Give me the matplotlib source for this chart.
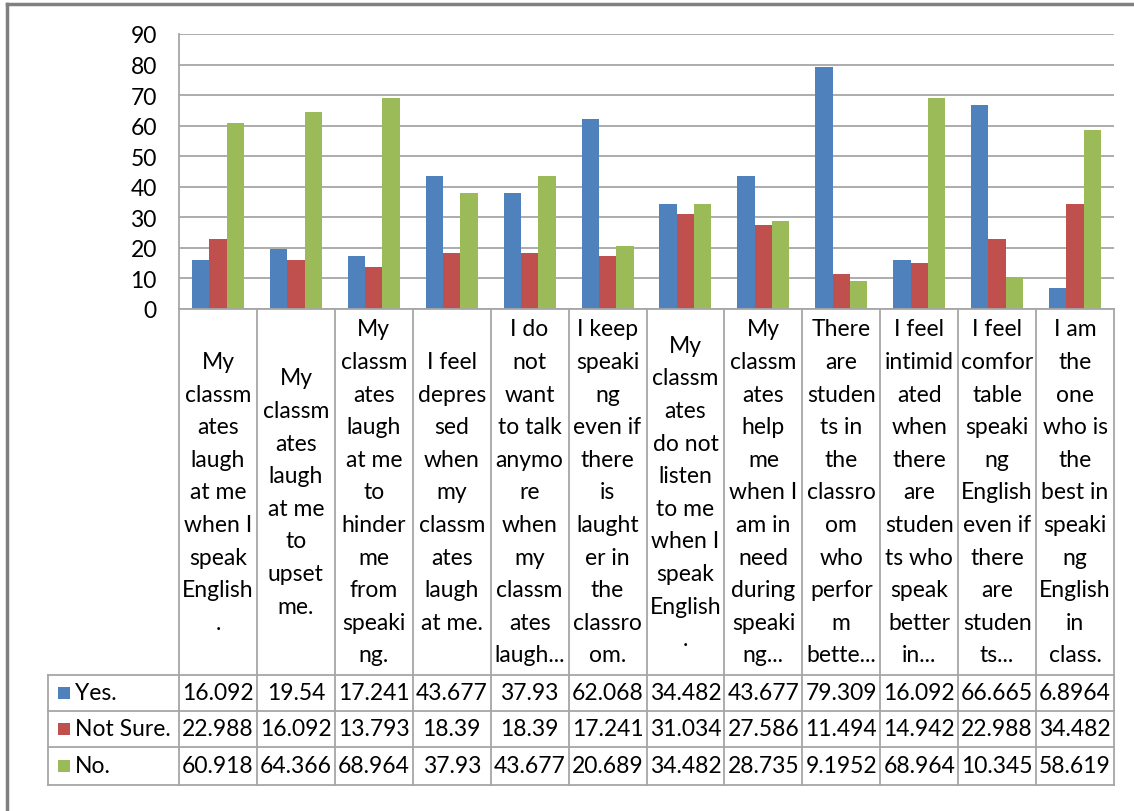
import matplotlib
matplotlib.use("Agg")
import matplotlib.pyplot as plt
from matplotlib.patches import Rectangle
from matplotlib.lines import Line2D
from matplotlib.transforms import blended_transform_factory

plt.rcParams['font.family'] = ['Lato', 'DejaVu Sans']

categories = [
    "My\nclassm\nates\nlaugh\nat me\nwhen I\nspeak\nEnglish\n.",
    "My\nclassm\nates\nlaugh\nat me\nto\nupset\nme.",
    "My\nclassm\nates\nlaugh\nat me\nto\nhinder\nme\nfrom\nspeaki\nng.",
    "I feel\ndepres\nsed\nwhen\nmy\nclassm\nates\nlaugh\nat me.",
    "I do\nnot\nwant\nto talk\nanymo\nre\nwhen\nmy\nclassm\nates\nlaugh...",
    "I keep\nspeaki\nng\neven if\nthere\nis\nlaught\ner in\nthe\nclassro\nom.",
    "My\nclassm\nates\ndo not\nlisten\nto me\nwhen I\nspeak\nEnglish\n.",
    "My\nclassm\nates\nhelp\nme\nwhen I\nam in\nneed\nduring\nspeaki\nng...",
    "There\nare\nstuden\nts in\nthe\nclassro\nom\nwho\nperfor\nm\nbette...",
    "I feel\nintimid\nated\nwhen\nthere\nare\nstuden\nts who\nspeak\nbetter\nin...",
    "I feel\ncomfor\ntable\nspeaki\nng\nEnglish\neven if\nthere\nare\nstuden\nts...",
    "I am\nthe\none\nwho is\nthe\nbest in\nspeaki\nng\nEnglish\nin\nclass.",
]

series_names = ["Yes.", "Not Sure.", "No."]
yes_vals = [16.092, 19.54, 17.241, 43.677, 37.93, 62.068, 34.482, 43.677, 79.309, 16.092, 66.665, 6.8964]
notsure_vals = [22.988, 16.092, 13.793, 18.39, 18.39, 17.241, 31.034, 27.586, 11.494, 14.942, 22.988, 34.482]
no_vals = [60.918, 64.366, 68.964, 37.93, 43.677, 20.689, 34.482, 28.735, 9.1952, 68.964, 10.345, 58.619]
yes_text = ["16.092", "19.54", "17.241", "43.677", "37.93", "62.068", "34.482", "43.677", "79.309", "16.092", "66.665", "6.8964"]
notsure_text = ["22.988", "16.092", "13.793", "18.39", "18.39", "17.241", "31.034", "27.586", "11.494", "14.942", "22.988", "34.482"]
no_text = ["60.918", "64.366", "68.964", "37.93", "43.677", "20.689", "34.482", "28.735", "9.1952", "68.964", "10.345", "58.619"]
y_ticks = [0, 10, 20, 30, 40, 50, 60, 70, 80, 90]

colors = ["#4F81BD", "#C0504D", "#9BBB59"]
grid_c = "#A6A6A6"
FS = 16.5

W, H = 1134, 812
fig = plt.figure(figsize=(W / 100, H / 100), dpi=100)

def fx(x):
    return x / W

def fy(y):
    return 1 - y / H

left, right, top, bottom = 179, 1114, 35, 310
ax = fig.add_axes([fx(left), fy(bottom), fx(right - left), (bottom - top) / H])
n = len(categories)
ax.set_xlim(-0.5, n - 0.5)
ax.set_ylim(0, 90)

bw = 1 / 4.5
series = [yes_vals, notsure_vals, no_vals]
for k, vals in enumerate(series):
    ax.bar([i + (k - 1) * bw for i in range(n)], vals, width=bw, color=colors[k],
           zorder=3, linewidth=0)

ax.set_yticks(y_ticks)
ax.set_yticklabels([str(t) for t in y_ticks], fontsize=FS, color="#000000")
ax.tick_params(axis='y', length=0, pad=16)
ax.set_xticks([])
ax.grid(axis='y', color=grid_c, linewidth=1.3, zorder=0)
for s in ["top", "right", "bottom"]:
    ax.spines[s].set_visible(False)
ax.spines["left"].set_color(grid_c)
ax.spines["left"].set_linewidth(1.3)

# Table
bt = blended_transform_factory(ax.transData, fig.transFigure)
row_tops = [676, 712, 748, 786]
line_kw = dict(color=grid_c, linewidth=1.3, clip_on=False)

# vertical lines
for i in range(n + 1):
    xv = i - 0.5
    fig.add_artist(Line2D([xv, xv], [fy(bottom), fy(row_tops[-1])], transform=bt, **line_kw))
fig.add_artist(Line2D([fx(48), fx(48)], [fy(row_tops[0]), fy(row_tops[-1])], transform=fig.transFigure, **line_kw))
# horizontal lines
fig.add_artist(Line2D([fx(left), fx(right)], [fy(bottom), fy(bottom)], transform=fig.transFigure, **line_kw))
for yr in row_tops:
    fig.add_artist(Line2D([fx(48), fx(right)], [fy(yr), fy(yr)], transform=fig.transFigure, **line_kw))

# category labels
pitch = 32.6
mid = (bottom + row_tops[0]) / 2
for i, lab in enumerate(categories):
    lines = lab.split("\n")
    m = len(lines)
    for j, ln in enumerate(lines):
        yy = mid + (j - (m - 1) / 2) * pitch
        fig.text(i, fy(yy), ln, transform=bt, ha="center", va="center", fontsize=FS, color="#000000")

# data rows
texts = [yes_text, notsure_text, no_text]
for r in range(3):
    yc = (row_tops[r] + row_tops[r + 1]) / 2
    fig.add_artist(Rectangle((fx(58), fy(yc + 6)), fx(12), 12 / H, transform=fig.transFigure,
                             facecolor=colors[r], edgecolor="none"))
    fig.text(fx(75), fy(yc), series_names[r], ha="left", va="center", fontsize=FS, color="#000000")
    for i in range(n):
        fig.text(i, fy(yc), texts[r][i], transform=bt, ha="center", va="center", fontsize=FS, color="#000000")

# outer frame
fig.add_artist(Line2D([fx(7), fx(7)], [fy(5), 0], transform=fig.transFigure, color="#808080", linewidth=2.5))
fig.add_artist(Line2D([fx(7), 1], [fy(5), fy(5)], transform=fig.transFigure, color="#808080", linewidth=2.5))

fig.savefig("out.png", dpi=100, facecolor="white")
